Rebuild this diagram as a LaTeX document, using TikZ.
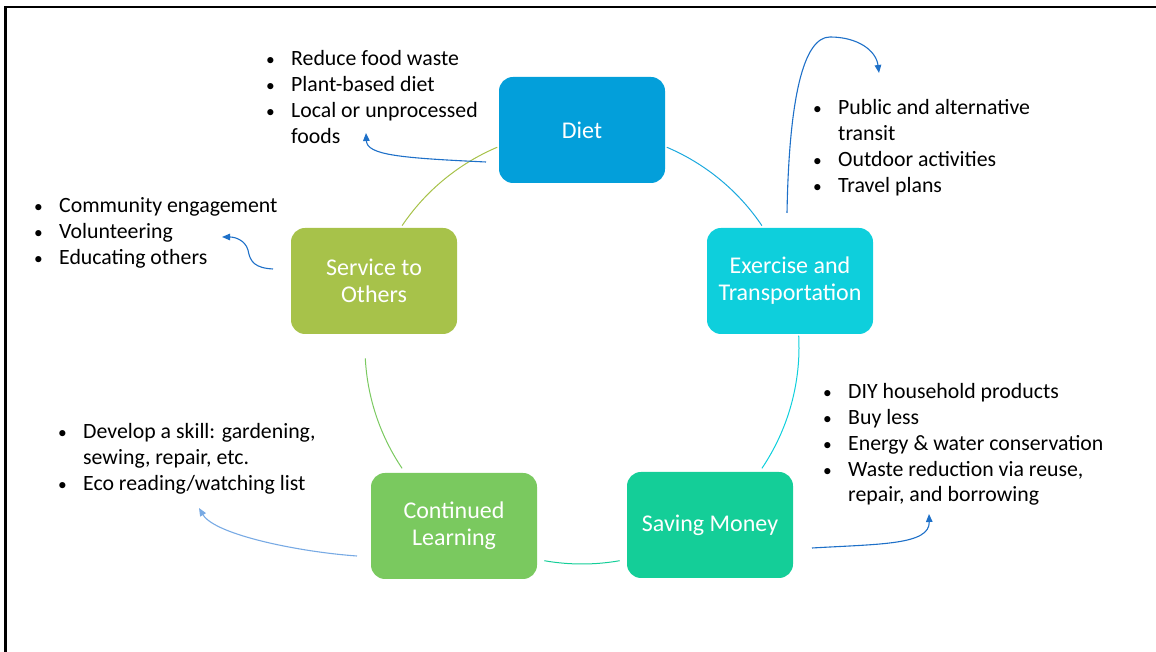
\documentclass[tikz,border=0pt]{standalone}
\usepackage{fontspec}
\setmainfont{Carlito}
\usetikzlibrary{arrows.meta}

% palette
\definecolor{dietc}{RGB}{3,159,218}
\definecolor{exerc}{RGB}{14,207,220}
\definecolor{savec}{RGB}{20,206,152}
\definecolor{learnc}{RGB}{122,201,95}
\definecolor{servec}{RGB}{167,194,74}
\definecolor{pointc}{RGB}{30,112,200}
\definecolor{pointlight}{RGB}{120,170,228}

\newcommand{\bul}{\makebox[26pt][l]{\hspace{1pt}\scalebox{0.8}{\textbullet}}}

\tikzset{
  box/.style={rounded corners=14pt, minimum width=166pt, minimum height=106pt,
    inner sep=0pt, text=white, align=center, font=\fontsize{24}{27}\selectfont},
  ring/.style={line width=1pt, draw=#1},
  note/.style={anchor=base west, inner sep=0pt, font=\fontsize{21.8}{25.7}\selectfont},
  pointer/.style={draw=#1, line width=1.1pt, -{Triangle[length=8pt,width=6.5pt,fill=#1]}},
}

\begin{document}
\begin{tikzpicture}[x=1pt,y=1pt]
\useasboundingbox (0,0) rectangle (1156,652);

% frame
\draw[line width=2.2pt] (5.5,-10) -- (5.5,645) -- (1170,645);

% the cycle
\coordinate (hub) at (582,305);
\node[box, fill=dietc]   (diet)  at (582,522) {Diet};
\node[box, fill=exerc]   (exer)  at (790,371) {Exercise and\\Transportation};
\node[box, fill=savec]   (save)  at (710,127) {Saving Money};
\node[box, fill=learnc]  (learn) at (454,126) {Continued\\Learning};
\node[box, fill=servec]  (serve) at (374,371) {Service to\\Others};

% ring segments between the boxes
\draw[ring=dietc!90]  ([shift={(67:217)}]hub)   arc[start angle=67,  end angle=34,   radius=217];
\draw[ring=exerc]     ([shift={(3:217)}]hub)    arc[start angle=3,   end angle=-34,  radius=217];
\draw[ring=savec]     ([shift={(-80:217)}]hub)  arc[start angle=-80, end angle=-100, radius=217];
\draw[ring=learnc]    ([shift={(-146:217)}]hub) arc[start angle=-146,end angle=-177, radius=217];
\draw[ring=servec]    ([shift={(146:217)}]hub)  arc[start angle=146, end angle=113,  radius=217];

% bullet lists
\node[note] (dietlist) at (265,586) {\begin{tabular}[t]{@{}l@{}l@{}}
  \bul & Reduce food waste\\
  \bul & Plant-based diet\\
  \bul & Local or unprocessed\\
       & foods
\end{tabular}};
\node[note] (exerlist) at (812,537) {\begin{tabular}[t]{@{}l@{}l@{}}
  \bul & Public and alternative\\
       & transit\\
  \bul & Outdoor activities\\
  \bul & Travel plans
\end{tabular}};
\node[note] (servelist) at (33,439) {\begin{tabular}[t]{@{}l@{}l@{}}
  \bul & Community engagement\\
  \bul & Volunteering\\
  \bul & Educating others
\end{tabular}};
\node[note] (savelist) at (822,253) {\begin{tabular}[t]{@{}l@{}l@{}}
  \bul & DIY household products\\
  \bul & Buy less\\
  \bul & Energy \& water conservation\\
  \bul & Waste reduction via reuse,\\
       & repair, and borrowing
\end{tabular}};
\node[note] (learnlist) at (57,213) {\begin{tabular}[t]{@{}l@{}l@{}}
  \bul & Develop a skill: gardening,\\
       & sewing, repair, etc.\\
  \bul & Eco reading/watching list
\end{tabular}};

% pointer ends
\coordinate (dietout)   at (486,490);
\coordinate (dietin)    at (366,519);
\coordinate (exerout)   at (787,439);
\coordinate (exertop)   at (830,615);
\coordinate (exerin)    at (879,579);
\coordinate (serveout)  at (273,383);
\coordinate (servemid)  at (248,402);
\coordinate (servein)   at (222,415);
\coordinate (saveout)   at (812,104);
\coordinate (savein)    at (929,138);
\coordinate (learnout)  at (357,96);
\coordinate (learnin)   at (199,144);

% pointers from each box to its list
\draw[pointer=pointc] (dietout) .. controls (400,494) and (367,497) .. (dietin);
\draw[pointer=pointc] (exerout) .. controls (789,552) and (803,615) .. (exertop)
                                .. controls (857,615) and (876,602) .. (exerin);
\draw[pointer=pointc] (serveout) .. controls (255,384) and (250,390) .. (servemid)
                                 .. controls (245,412) and (235,415) .. (servein);
\draw[pointer=pointc] (saveout) .. controls (880,108) and (930,107) .. (savein);
\draw[pointer=pointlight] (learnout) .. controls (300,100) and (215,117) .. (learnin);
\end{tikzpicture}
\end{document}
